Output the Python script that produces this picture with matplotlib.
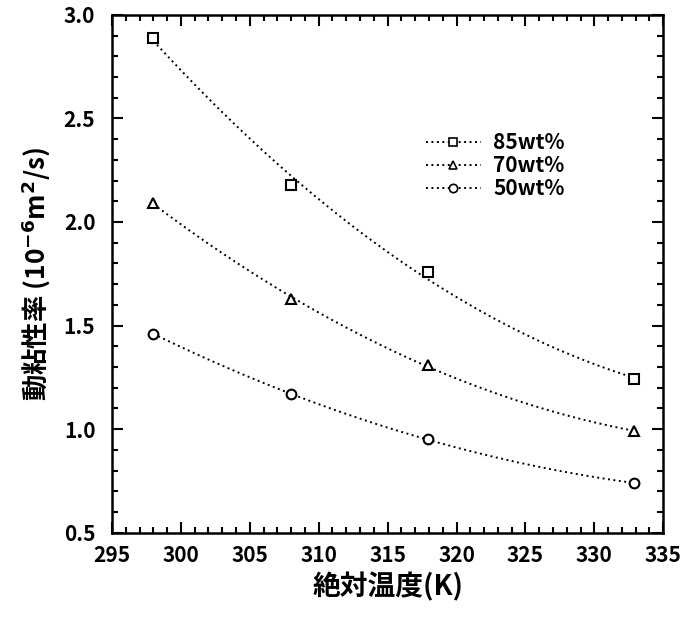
import numpy as np
import matplotlib
matplotlib.use("Agg")
import matplotlib.pyplot as plt
from matplotlib.ticker import MultipleLocator

plt.rcParams['font.family'] = ['Noto Sans CJK JP', 'DejaVu Sans']

temps = [298.0, 308.0, 317.9, 332.9]
visc_85 = [2.89, 2.18, 1.76, 1.24]
visc_70 = [2.09, 1.63, 1.31, 0.99]
visc_50 = [1.46, 1.17, 0.95, 0.74]
labels = ["85wt%", "70wt%", "50wt%"]
markers = ['s', '^', 'o']

fig = plt.figure(figsize=(6.83, 6.18), dpi=100)
ax = fig.add_axes([0.164, 0.138, 0.807, 0.838])

xs = np.linspace(temps[0], temps[-1], 100)
for vals, lab, mk in zip([visc_85, visc_70, visc_50], labels, markers):
    # smooth guide curve through the measured points
    coef = np.polyfit(temps, vals, 2)
    ax.plot(xs, np.polyval(coef, xs), color='black', linestyle=(0, (1.0, 1.8)), lw=1.4)
    ax.plot(temps, vals, linestyle='none', marker=mk, markersize=7,
            markerfacecolor='white', markeredgecolor='black', markeredgewidth=1.5)
    # legend proxy
    ax.plot([], [], color='black', linestyle=(0, (1.0, 1.8)), lw=1.4, marker=mk,
            markersize=6, markerfacecolor='white', markeredgecolor='black',
            markeredgewidth=1.2, label=lab)

ax.set_xlim(295, 335)
ax.set_ylim(0.5, 3.0)
ax.xaxis.set_major_locator(MultipleLocator(5))
ax.xaxis.set_minor_locator(MultipleLocator(1))
ax.yaxis.set_major_locator(MultipleLocator(0.5))
ax.yaxis.set_minor_locator(MultipleLocator(0.1))
ax.set_yticklabels([f"{v:.1f}" for v in ax.get_yticks()])
ax.tick_params(which='both', direction='in', top=True, right=True, width=1.5)
ax.tick_params(which='major', length=8, labelsize=15)
ax.tick_params(axis='x', which='major', pad=9)
ax.tick_params(axis='y', which='major', pad=12)
ax.tick_params(which='minor', length=4)
for t in ax.get_xticklabels() + ax.get_yticklabels():
    t.set_fontweight('bold')
for s in ax.spines.values():
    s.set_linewidth(1.8)

ax.set_xlabel("絶対温度(K)", fontsize=20, fontweight='bold', labelpad=4)
ax.set_ylabel("動粘性率 (10$^{\\mathbf{-6}}$m$^{\\mathbf{2}}$/s)", fontsize=19,
              fontweight='bold', labelpad=8)

ax.legend(loc='upper right', bbox_to_anchor=(0.855, 0.81), frameon=False,
          handlelength=2.6, labelspacing=0.1, handletextpad=0.6,
          prop={'weight': 'bold', 'size': 15})

fig.savefig("out.png", dpi=100)
